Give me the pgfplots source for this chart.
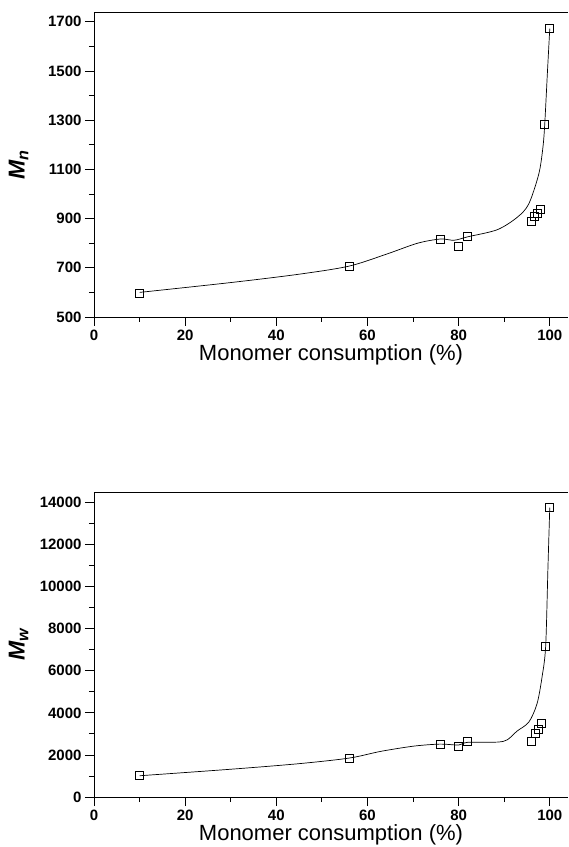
\documentclass[border=0pt]{standalone}
\usepackage{fontspec}
\setmainfont{Liberation Sans}
\usepackage{pgfplots}
\pgfplotsset{compat=1.18}

% measured points (open squares)
\pgfplotstableread{
x y
10 598
56 707
76 817
80 788
82 826
96 890
96.7 908
97.2 922
98 937
98.9 1285
100 1672
}\mntable
\pgfplotstableread{
x y
10 1010
56 1850
76 2515
80 2420
82 2640
96 2640
96.9 3040
97.5 3230
98.1 3510
99.1 7170
100 13760
}\mwtable

\pgfplotsset{
  mystyle/.style={
    width=474pt, height=305pt, scale only axis,
    axis x line=box, axis y line=left,
    axis line style={line width=0.9pt, -},
    xmin=0, xmax=104, xtick={0,20,...,100}, minor x tick num=1,
    xtick pos=bottom, ytick pos=left,
    tick align=outside,
    major tick length=9pt, minor tick length=5pt,
    every tick/.style={black, line width=0.8pt},
    tick label style={font=\fontsize{15}{16}\selectfont\bfseries},
    /pgf/number format/assume math mode=true,
    /pgf/number format/1000 sep={},
    scaled ticks=false,
    every axis x label/.style={at={(axis description cs:0.5,-0.125)}, anchor=center,
      font=\fontsize{22}{24}\selectfont},
    every axis y label/.style={at={(axis description cs:-0.159,0.5)}, anchor=center, rotate=90,
      font=\fontsize{23}{25}\selectfont\bfseries\itshape},
    xlabel={Monomer consumption (\%)},
    clip=false,
  },
  curve/.style={black, line width=0.7pt, smooth, tension=0.5, no marks},
  pts/.style={only marks, mark=square, mark size=4pt, mark options={black, line width=0.7pt, fill=white}},
}

\begin{document}
\begin{tikzpicture}
\useasboundingbox (-94pt,-50pt) rectangle (475pt,797pt);
% top panel: Mn
\begin{axis}[mystyle, at={(0,480pt)},
    ymin=500, ymax=1740, ytick={500,700,...,1700}, minor y tick num=1,
    ylabel={M\textsubscript{n}}]
\addplot[curve] coordinates {
(10,600) (30,640) (45,674) (56,707) (64.4,757) (71,800) (76,817) (79,812) (82,826)
(88.5,855) (92.9,906) (95.4,960) (97.6,1082) (98.5,1190) (98.9,1285) (99.5,1500) (100,1672)};
\addplot[pts] table {\mntable};
\end{axis}
% bottom panel: Mw
\begin{axis}[mystyle, at={(0,0)},
    ymin=0, ymax=14500, ytick={0,2000,...,14000}, minor y tick num=1,
    ylabel={M\textsubscript{w}}]
\addplot[curve] coordinates {
(10,1010) (30,1320) (45,1585) (56,1851) (62.9,2169) (70.2,2420) (76,2515) (80,2470) (82,2600)
(88.5,2610) (90.7,2723) (92.8,3130) (95.4,3560) (97.2,4430) (98.3,5695) (99.1,7170) (99.6,10900) (100,13760)};
\addplot[pts] table {\mwtable};
\end{axis}
\end{tikzpicture}
\end{document}
